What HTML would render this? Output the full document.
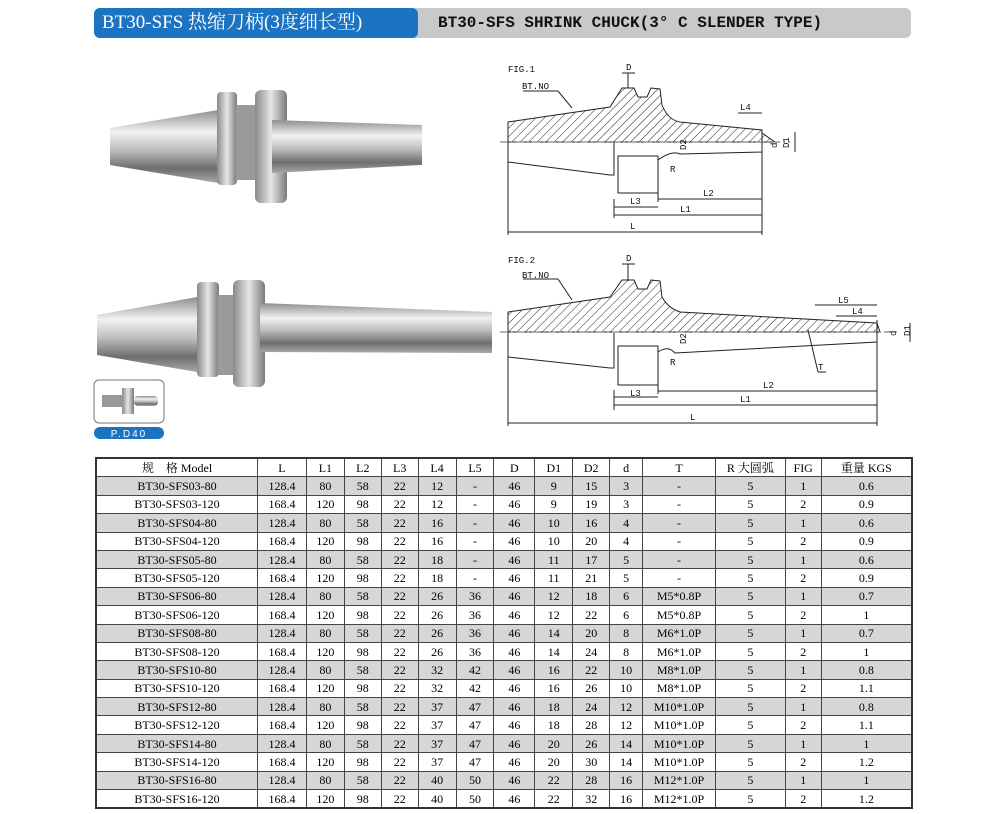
<!DOCTYPE html>
<html><head><meta charset="utf-8"><style>
body{margin:0;background:#fff;width:1004px;height:814px;position:relative;overflow:hidden;font-family:"Liberation Sans","Noto Sans CJK SC",sans-serif}
#hdr{position:absolute;left:94px;top:8px;width:817px;height:30px;background:#c9c9c9;border-radius:6px}
#hb{position:absolute;left:94px;top:8px;width:324px;height:30px;background:#1b73c2;border-radius:6px;color:#fff;font-family:"Liberation Serif","Noto Serif CJK SC",serif;font-size:19px;line-height:30px;padding-left:8px;box-sizing:border-box}
#ht{position:absolute;left:438px;top:8px;line-height:30px;font-size:16px;font-family:"Liberation Mono","Noto Sans CJK SC",monospace;font-weight:bold;color:#111}
table{position:absolute;left:95px;top:457px;width:818px;border-collapse:collapse;font-family:"Liberation Serif","Noto Serif CJK SC",serif;font-size:12px}
td{border:1px solid #444;height:17.4px;padding:0;text-align:center;line-height:16px}
tr:nth-child(even) td{background:#d6d6d6}
table{border:2px solid #333}
</style></head><body>
<div id="hdr"></div><div id="hb">BT30-SFS 热缩刀柄(3度细长型)</div>
<div id="ht">BT30-SFS SHRINK CHUCK(3° C SLENDER TYPE)</div>
<svg width="1004" height="455" style="position:absolute;left:0;top:0">
<defs>
<linearGradient id="m" x1="0" y1="0" x2="0" y2="1"><stop offset="0" stop-color="#8e8e8e"/><stop offset=".3" stop-color="#f2f2f2"/><stop offset=".55" stop-color="#bdbdbd"/><stop offset=".8" stop-color="#6e6e6e"/><stop offset="1" stop-color="#a8a8a8"/></linearGradient>
<linearGradient id="f" x1="0" y1="0" x2="1" y2="0"><stop offset="0" stop-color="#8a8a8a"/><stop offset=".5" stop-color="#e6e6e6"/><stop offset="1" stop-color="#7a7a7a"/></linearGradient>
<pattern id="h" width="6" height="6" patternUnits="userSpaceOnUse" patternTransform="rotate(45)"><line x1="0" y1="0" x2="0" y2="6" stroke="#222" stroke-width="1"/></pattern>
</defs>
<polygon points="110,128 218,110 218,183 110,165" fill="url(#m)"/>
<rect x="217" y="92" width="20" height="93" rx="4" fill="url(#f)"/>
<rect x="236" y="105" width="20" height="75" fill="#9a9a9a"/>
<rect x="255" y="90" width="32" height="113" rx="6" fill="url(#f)"/>
<polygon points="272,120 422,125 422,165 272,173" fill="url(#m)"/>
<polygon points="97,315 197,297 197,372 97,355" fill="url(#m)"/>
<rect x="197" y="282" width="22" height="95" rx="4" fill="url(#f)"/>
<rect x="218" y="295" width="16" height="80" fill="#9a9a9a"/>
<rect x="233" y="280" width="32" height="107" rx="6" fill="url(#f)"/>
<polygon points="260,303 492,312 492,353 260,352" fill="url(#m)"/>
<rect x="94" y="380" width="70" height="43" rx="5" fill="#fff" stroke="#777"/>
<rect x="102" y="395" width="20" height="12" fill="#999"/><rect x="122" y="388" width="12" height="26" fill="url(#f)"/><rect x="134" y="396" width="24" height="10" rx="4" fill="url(#m)"/>
<rect x="94" y="427" width="70" height="12" rx="6" fill="#1b73c2"/>
<text x="129" y="437" font-size="10" fill="#fff" text-anchor="middle" letter-spacing="2">P.D40</text>
<g stroke="#222" stroke-width="1" font-size="9" font-family="Liberation Mono,monospace">
<path d="M508,122 L508,142 L775,142 L762,133 L762,130 L680,122 Q668,120 662,105 L660,89 L651,88 L647,97 L638,97 L634,88 L622,88 L610,107 Z" fill="url(#h)"/>
<path d="M508,142 L508,162 L610,175 L614,175 L614,141" fill="none"/>
<rect x="618" y="156" width="40" height="37" fill="#fff"/>
<path d="M658,160 Q672,150 680,154 L762,152 L762,142" fill="none"/>
<line x1="500" y1="142" x2="790" y2="142" stroke-dasharray="8,3,2,3" stroke="#666"/>
<line x1="614" y1="199" x2="614" y2="218"/><line x1="658" y1="193" x2="658" y2="202"/><line x1="762" y1="130" x2="762" y2="235"/><line x1="508" y1="162" x2="508" y2="235"/>
<line x1="658" y1="199" x2="762" y2="199"/><line x1="614" y1="215" x2="762" y2="215"/><line x1="508" y1="232" x2="762" y2="232"/><line x1="614" y1="207" x2="658" y2="207"/>
<line x1="738" y1="113" x2="762" y2="113"/><line x1="795" y1="132" x2="795" y2="152"/>
<line x1="622" y1="73" x2="635" y2="73"/><line x1="628" y1="73" x2="628" y2="88"/>
<line x1="523" y1="91" x2="558" y2="91"/><line x1="558" y1="91" x2="572" y2="108"/>
<g stroke="none" fill="#111">
<text x="508" y="72">FIG.1</text><text x="522" y="89">BT.NO</text><text x="626" y="70">D</text>
<text x="740" y="110">L4</text><text x="703" y="196">L2</text><text x="680" y="212">L1</text><text x="630" y="204">L3</text><text x="630" y="229">L</text>
<text x="787" y="150" transform="rotate(-90 787 148)">D1</text><text x="775" y="150" transform="rotate(-90 775 148)">d</text><text x="684" y="152" transform="rotate(-90 684 150)">D2</text><text x="670" y="172">R</text>
</g>
<path d="M508,312 L508,332 L880,332 L877,323 L680,312 Q668,308 662,297 L660,281 L651,280 L647,289 L638,289 L634,280 L622,280 L610,297 Z" fill="url(#h)"/>
<path d="M508,332 L508,357 L610,368 L614,368 L614,333" fill="none"/>
<rect x="618" y="346" width="40" height="39" fill="#fff"/>
<path d="M658,352 Q668,345 675,353 L877,342 L877,332" fill="none"/>
<line x1="500" y1="332" x2="900" y2="332" stroke-dasharray="8,3,2,3" stroke="#666"/>
<line x1="614" y1="390" x2="614" y2="410"/><line x1="658" y1="385" x2="658" y2="394"/><line x1="877" y1="320" x2="877" y2="426"/><line x1="508" y1="357" x2="508" y2="426"/>
<line x1="658" y1="391" x2="877" y2="391"/><line x1="614" y1="405" x2="877" y2="405"/><line x1="508" y1="423" x2="877" y2="423"/><line x1="614" y1="397" x2="658" y2="397"/>
<line x1="815" y1="305" x2="877" y2="305"/><line x1="836" y1="316" x2="877" y2="316"/><line x1="910" y1="323" x2="910" y2="342"/>
<line x1="622" y1="264" x2="635" y2="264"/><line x1="628" y1="264" x2="628" y2="281"/>
<line x1="523" y1="279" x2="558" y2="279"/><line x1="558" y1="279" x2="572" y2="300"/>
<line x1="808" y1="330" x2="818" y2="372"/><line x1="818" y1="372" x2="826" y2="372"/>
<g stroke="none" fill="#111">
<text x="508" y="263">FIG.2</text><text x="522" y="278">BT.NO</text><text x="626" y="261">D</text>
<text x="838" y="303">L5</text><text x="852" y="314">L4</text><text x="763" y="388">L2</text><text x="740" y="402">L1</text><text x="630" y="396">L3</text><text x="690" y="420">L</text><text x="818" y="370">T</text>
<text x="906" y="340" transform="rotate(-90 906 336)">D1</text><text x="892" y="340" transform="rotate(-90 892 336)">d</text><text x="684" y="346" transform="rotate(-90 684 344)">D2</text><text x="670" y="365">R</text>
</g>
</g>
</svg>
<table>
<colgroup><col style="width:162px"><col style="width:49px"><col style="width:38px"><col style="width:37px"><col style="width:37px"><col style="width:38px"><col style="width:38px"><col style="width:41px"><col style="width:38px"><col style="width:37px"><col style="width:33px"><col style="width:73px"><col style="width:70px"><col style="width:36px"><col style="width:91px"></colgroup>
<tr><td>规　格 Model</td><td>L</td><td>L1</td><td>L2</td><td>L3</td><td>L4</td><td>L5</td><td>D</td><td>D1</td><td>D2</td><td>d</td><td>T</td><td>R 大圆弧</td><td>FIG</td><td>重量 KGS</td></tr>
<tr><td>BT30-SFS03-80</td><td>128.4</td><td>80</td><td>58</td><td>22</td><td>12</td><td>-</td><td>46</td><td>9</td><td>15</td><td>3</td><td>-</td><td>5</td><td>1</td><td>0.6</td></tr>
<tr><td>BT30-SFS03-120</td><td>168.4</td><td>120</td><td>98</td><td>22</td><td>12</td><td>-</td><td>46</td><td>9</td><td>19</td><td>3</td><td>-</td><td>5</td><td>2</td><td>0.9</td></tr>
<tr><td>BT30-SFS04-80</td><td>128.4</td><td>80</td><td>58</td><td>22</td><td>16</td><td>-</td><td>46</td><td>10</td><td>16</td><td>4</td><td>-</td><td>5</td><td>1</td><td>0.6</td></tr>
<tr><td>BT30-SFS04-120</td><td>168.4</td><td>120</td><td>98</td><td>22</td><td>16</td><td>-</td><td>46</td><td>10</td><td>20</td><td>4</td><td>-</td><td>5</td><td>2</td><td>0.9</td></tr>
<tr><td>BT30-SFS05-80</td><td>128.4</td><td>80</td><td>58</td><td>22</td><td>18</td><td>-</td><td>46</td><td>11</td><td>17</td><td>5</td><td>-</td><td>5</td><td>1</td><td>0.6</td></tr>
<tr><td>BT30-SFS05-120</td><td>168.4</td><td>120</td><td>98</td><td>22</td><td>18</td><td>-</td><td>46</td><td>11</td><td>21</td><td>5</td><td>-</td><td>5</td><td>2</td><td>0.9</td></tr>
<tr><td>BT30-SFS06-80</td><td>128.4</td><td>80</td><td>58</td><td>22</td><td>26</td><td>36</td><td>46</td><td>12</td><td>18</td><td>6</td><td>M5*0.8P</td><td>5</td><td>1</td><td>0.7</td></tr>
<tr><td>BT30-SFS06-120</td><td>168.4</td><td>120</td><td>98</td><td>22</td><td>26</td><td>36</td><td>46</td><td>12</td><td>22</td><td>6</td><td>M5*0.8P</td><td>5</td><td>2</td><td>1</td></tr>
<tr><td>BT30-SFS08-80</td><td>128.4</td><td>80</td><td>58</td><td>22</td><td>26</td><td>36</td><td>46</td><td>14</td><td>20</td><td>8</td><td>M6*1.0P</td><td>5</td><td>1</td><td>0.7</td></tr>
<tr><td>BT30-SFS08-120</td><td>168.4</td><td>120</td><td>98</td><td>22</td><td>26</td><td>36</td><td>46</td><td>14</td><td>24</td><td>8</td><td>M6*1.0P</td><td>5</td><td>2</td><td>1</td></tr>
<tr><td>BT30-SFS10-80</td><td>128.4</td><td>80</td><td>58</td><td>22</td><td>32</td><td>42</td><td>46</td><td>16</td><td>22</td><td>10</td><td>M8*1.0P</td><td>5</td><td>1</td><td>0.8</td></tr>
<tr><td>BT30-SFS10-120</td><td>168.4</td><td>120</td><td>98</td><td>22</td><td>32</td><td>42</td><td>46</td><td>16</td><td>26</td><td>10</td><td>M8*1.0P</td><td>5</td><td>2</td><td>1.1</td></tr>
<tr><td>BT30-SFS12-80</td><td>128.4</td><td>80</td><td>58</td><td>22</td><td>37</td><td>47</td><td>46</td><td>18</td><td>24</td><td>12</td><td>M10*1.0P</td><td>5</td><td>1</td><td>0.8</td></tr>
<tr><td>BT30-SFS12-120</td><td>168.4</td><td>120</td><td>98</td><td>22</td><td>37</td><td>47</td><td>46</td><td>18</td><td>28</td><td>12</td><td>M10*1.0P</td><td>5</td><td>2</td><td>1.1</td></tr>
<tr><td>BT30-SFS14-80</td><td>128.4</td><td>80</td><td>58</td><td>22</td><td>37</td><td>47</td><td>46</td><td>20</td><td>26</td><td>14</td><td>M10*1.0P</td><td>5</td><td>1</td><td>1</td></tr>
<tr><td>BT30-SFS14-120</td><td>168.4</td><td>120</td><td>98</td><td>22</td><td>37</td><td>47</td><td>46</td><td>20</td><td>30</td><td>14</td><td>M10*1.0P</td><td>5</td><td>2</td><td>1.2</td></tr>
<tr><td>BT30-SFS16-80</td><td>128.4</td><td>80</td><td>58</td><td>22</td><td>40</td><td>50</td><td>46</td><td>22</td><td>28</td><td>16</td><td>M12*1.0P</td><td>5</td><td>1</td><td>1</td></tr>
<tr><td>BT30-SFS16-120</td><td>168.4</td><td>120</td><td>98</td><td>22</td><td>40</td><td>50</td><td>46</td><td>22</td><td>32</td><td>16</td><td>M12*1.0P</td><td>5</td><td>2</td><td>1.2</td></tr>
</table>
</body></html>
